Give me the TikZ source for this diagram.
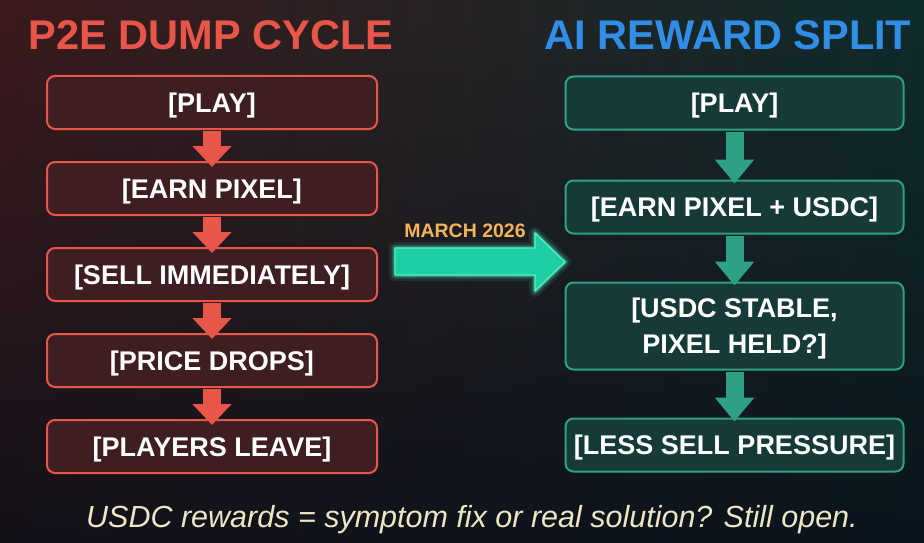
\documentclass[tikz,border=0pt]{standalone}
\usepackage{fontspec}
\setmainfont{Liberation Sans}
\usepackage{tikz}
\usetikzlibrary{arrows.meta, positioning, fadings}
\definecolor{dumpred}{RGB}{232, 86, 74}
\definecolor{dumpfill}{RGB}{62, 30, 33}
\definecolor{splitblue}{RGB}{48, 142, 230}
\definecolor{splitteal}{RGB}{46, 160, 134}
\definecolor{splitfill}{RGB}{22, 58, 55}
\definecolor{shiftgreen}{RGB}{30, 205, 162}
\definecolor{shiftglow}{RGB}{80, 245, 200}
\definecolor{dategold}{RGB}{242, 180, 90}
\definecolor{notecream}{RGB}{237, 230, 196}
\definecolor{bgred}{RGB}{60, 27, 29}
\definecolor{bgmid}{RGB}{16, 20, 30}
\definecolor{bgteal}{RGB}{16, 44, 44}
\definecolor{bgnavy}{RGB}{10, 15, 25}

\begin{document}
\begin{tikzpicture}[x=1pt, y=-1pt,
  headline/.style={font=\fontsize{41.5}{46}\selectfont\bfseries, anchor=base},
  dumpbox/.style={draw=dumpred, fill=dumpfill, line width=2pt, rounded corners=8pt, minimum width=330pt, minimum height=53pt, text depth=0pt, text=white, font=\fontsize{27}{36}\selectfont\bfseries, align=center},
  splitbox/.style={dumpbox, draw=splitteal, fill=splitfill, minimum width=338pt},
  dumparrow/.style={draw=dumpred, line width=18pt, -{Triangle[width=38pt, length=21pt]}},
  splitarrow/.style={draw=splitteal, line width=18pt, -{Triangle[width=38pt, length=24pt]}},
  node distance=31pt]

  \shade[left color=bgred, middle color=bgmid, right color=bgteal] (0,0) rectangle (924,543);
  \fill[bgnavy, path fading=north, opacity=0.8] (0,0) rectangle (924,543);

  \node[headline, text=dumpred] (dumptitle) at (211,50) {P2E DUMP CYCLE};
  \node[headline, text=splitblue] (splittitle) at (728,50) {AI REWARD SPLIT};

  \node[dumpbox] (play) at (212,102.5) {[PLAY]};
  \node[dumpbox, below=of play] (earn) {[EARN PIXEL]};
  \node[dumpbox, below=of earn] (sell) {[SELL IMMEDIATELY]};
  \node[dumpbox, below=of sell] (drops) {[PRICE DROPS]};
  \node[dumpbox, below=of drops] (leave) {[PLAYERS LEAVE]};

  \node[splitbox] (aiplay) at (734.5,103) {[PLAY]};
  \node[splitbox, below=49pt of aiplay] (aiearn) {[EARN PIXEL + USDC]};
  \node[splitbox, below=47pt of aiearn, minimum height=87pt] (aistable) {[USDC STABLE,\\PIXEL HELD?]};
  \node[splitbox, below=47pt of aistable] (ailess) {[LESS SELL PRESSURE]};

  \foreach \a/\b in {play/earn, earn/sell, sell/drops, drops/leave}
    \draw[dumparrow] ([yshift=-1pt]\a.south) -- ([yshift=-6pt]\b.north);
  \foreach \a/\b in {aiplay/aiearn, aiearn/aistable, aistable/ailess}
    \draw[splitarrow] ([yshift=-1pt]\a.south) -- ([yshift=-4pt]\b.north);

  \foreach \w/\o in {12/0.1, 7/0.18, 3.5/0.35}
    \draw[shiftglow, line width=\w pt, opacity=\o, line join=round] (395,248) -- (535,248) -- (535,233) -- (565,262) -- (535,291) -- (535,275) -- (395,275) -- cycle;
  \filldraw[fill=shiftgreen, draw=shiftglow, line width=1.2pt, line join=round] (395,248) -- (535,248) -- (535,233) -- (565,262) -- (535,291) -- (535,275) -- (395,275) -- cycle;
  \node[font=\fontsize{19.5}{22}\selectfont\bfseries, text=dategold, anchor=base] (march) at (465,237) {MARCH 2026};

  \node[font=\fontsize{30.5}{34}\selectfont\itshape, text=notecream, anchor=base] (note) at (472,527) {USDC rewards = symptom fix or real solution? Still open.};
\end{tikzpicture}
\end{document}
